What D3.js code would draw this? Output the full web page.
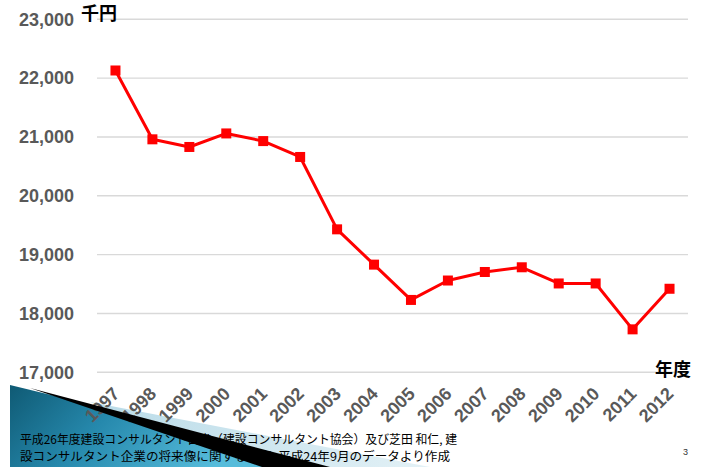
<!DOCTYPE html>
<html>
<head>
<meta charset="utf-8">
<script src="https://cdn.jsdelivr.net/npm/d3@7"></script>
<style>
  html, body { margin: 0; padding: 0; background: #ffffff; }
  svg { display: block; }
  .num { font-family: Arial, "Liberation Sans", sans-serif; font-weight: bold; font-size: 18px; fill: #595959; }
  .cjk { font-family: "Noto Sans CJK JP", sans-serif; }
</style>
</head>
<body>
<svg id="chart" width="705" height="467"></svg>
<script>
// ---- data ----
const years = ["1997","1998","1999","2000","2001","2002","2003","2004","2005","2006","2007","2008","2009","2010","2011","2012"];
const values = [22130, 20960, 20830, 21060, 20930, 20660, 19430, 18830, 18230, 18560, 18705, 18785, 18510, 18510, 17730, 18420];
const yTicks = [17000, 18000, 19000, 20000, 21000, 22000, 23000];
const yUnit = "千円";
const xUnit = "年度";
const sourceLines = [
  "平成26年度建設コンサルタント白書（建設コンサルタント協会）及び芝田 和仁, 建",
  "設コンサルタント企業の将来像に関する研究, 平成24年9月のデータより作成"
];
const pageNo = "3";

// ---- layout ----
const svg = d3.select("#chart");
const plot = { left: 97, right: 688, top: 19.3, bottom: 372.3 };

const x = d3.scaleBand().domain(years).range([plot.left, plot.right]).padding(0);
const y = d3.scaleLinear().domain([17000, 23000]).range([plot.bottom, plot.top]);
const cx = d => x(d) + x.bandwidth() / 2;

// ---- decorative footer shape ----
const defs = svg.append("defs");
const tg = defs.append("linearGradient").attr("id", "teal").attr("x1", "0").attr("y1", "0").attr("x2", "1").attr("y2", "0.3");
tg.append("stop").attr("offset", "0").attr("stop-color", "#0f5a74");
tg.append("stop").attr("offset", "0.45").attr("stop-color", "#2689ad");
tg.append("stop").attr("offset", "1").attr("stop-color", "#56bcdb");
const lg = defs.append("linearGradient").attr("id", "lightband").attr("x1", "0").attr("y1", "0").attr("x2", "1").attr("y2", "0");
lg.append("stop").attr("offset", "0").attr("stop-color", "#b9dbe8");
lg.append("stop").attr("offset", "1").attr("stop-color", "#e3f1f6");

const deco = svg.append("g");
deco.append("path").attr("d", "M90,402 L430,467 L250,467 Z").attr("fill", "url(#lightband)");
deco.append("path").attr("d", "M10,385 L80,402 L268,467 L10,467 Z").attr("fill", "url(#teal)");

// ---- gridlines ----
svg.append("g").selectAll("line").data(yTicks).join("line")
  .attr("x1", plot.left).attr("x2", plot.right)
  .attr("y1", d => y(d)).attr("y2", d => y(d))
  .attr("stroke", "#d9d9d9").attr("stroke-width", 1.4);

// ---- y axis ----
const yAxis = d3.axisLeft(y).tickValues(yTicks).tickFormat(d3.format(",")).tickSize(0).tickPadding(0);
const gy = svg.append("g").attr("transform", "translate(74,0)").call(yAxis)
  .attr("font-family", null).attr("font-size", null);
gy.select(".domain").remove();
gy.selectAll("text").attr("class", "num").attr("fill", null);

// ---- x axis ----
const xAxis = d3.axisBottom(x).tickSize(0).tickPadding(0);
const gx = svg.append("g").attr("transform", "translate(0,395)").call(xAxis)
  .attr("font-family", null).attr("font-size", null);
gx.select(".domain").remove();
gx.selectAll("text").attr("class", "num").attr("fill", null)
  .attr("text-anchor", "end").attr("dy", 0).attr("y", 0)
  .attr("transform", "translate(5,0) rotate(-45)");

// ---- line + markers ----
const line = d3.line().x((d, i) => cx(years[i])).y(d => y(d));
svg.append("path").datum(values).attr("d", line)
  .attr("fill", "none").attr("stroke", "#ff0000").attr("stroke-width", 3).attr("stroke-linejoin", "round");
svg.append("g").selectAll("rect").data(values).join("rect")
  .attr("x", (d, i) => cx(years[i]) - 5).attr("y", d => y(d) - 5)
  .attr("width", 10).attr("height", 10).attr("fill", "#ff0000");

// ---- unit labels ----
svg.append("text").attr("class", "cjk").attr("x", 81).attr("y", 20).text(yUnit)
  .attr("font-weight", "bold").attr("font-size", 18).attr("fill", "#000");
svg.append("text").attr("class", "cjk").attr("x", 655).attr("y", 376).text(xUnit)
  .attr("font-weight", "bold").attr("font-size", 18).attr("fill", "#000");

// ---- source text ----
const lens = [437, 430];
svg.append("g").selectAll("text").data(sourceLines).join("text")
  .attr("class", "cjk")
  .attr("x", 20).attr("y", (d, i) => 444 + i * 17)
  .attr("textLength", (d, i) => lens[i]).attr("lengthAdjust", "spacingAndGlyphs")
  .attr("font-size", 12).attr("fill", "#000")
  .text(d => d);

// black swoosh over text
svg.append("path").attr("d", "M30,388 L330,467 L262,467 Z").attr("fill", "#000");

// page number
svg.append("text").attr("x", 683).attr("y", 455).text(pageNo)
  .attr("font-family", "Arial, 'Liberation Sans', sans-serif").attr("font-size", 9).attr("fill", "#333");
</script>
</body>
</html>
